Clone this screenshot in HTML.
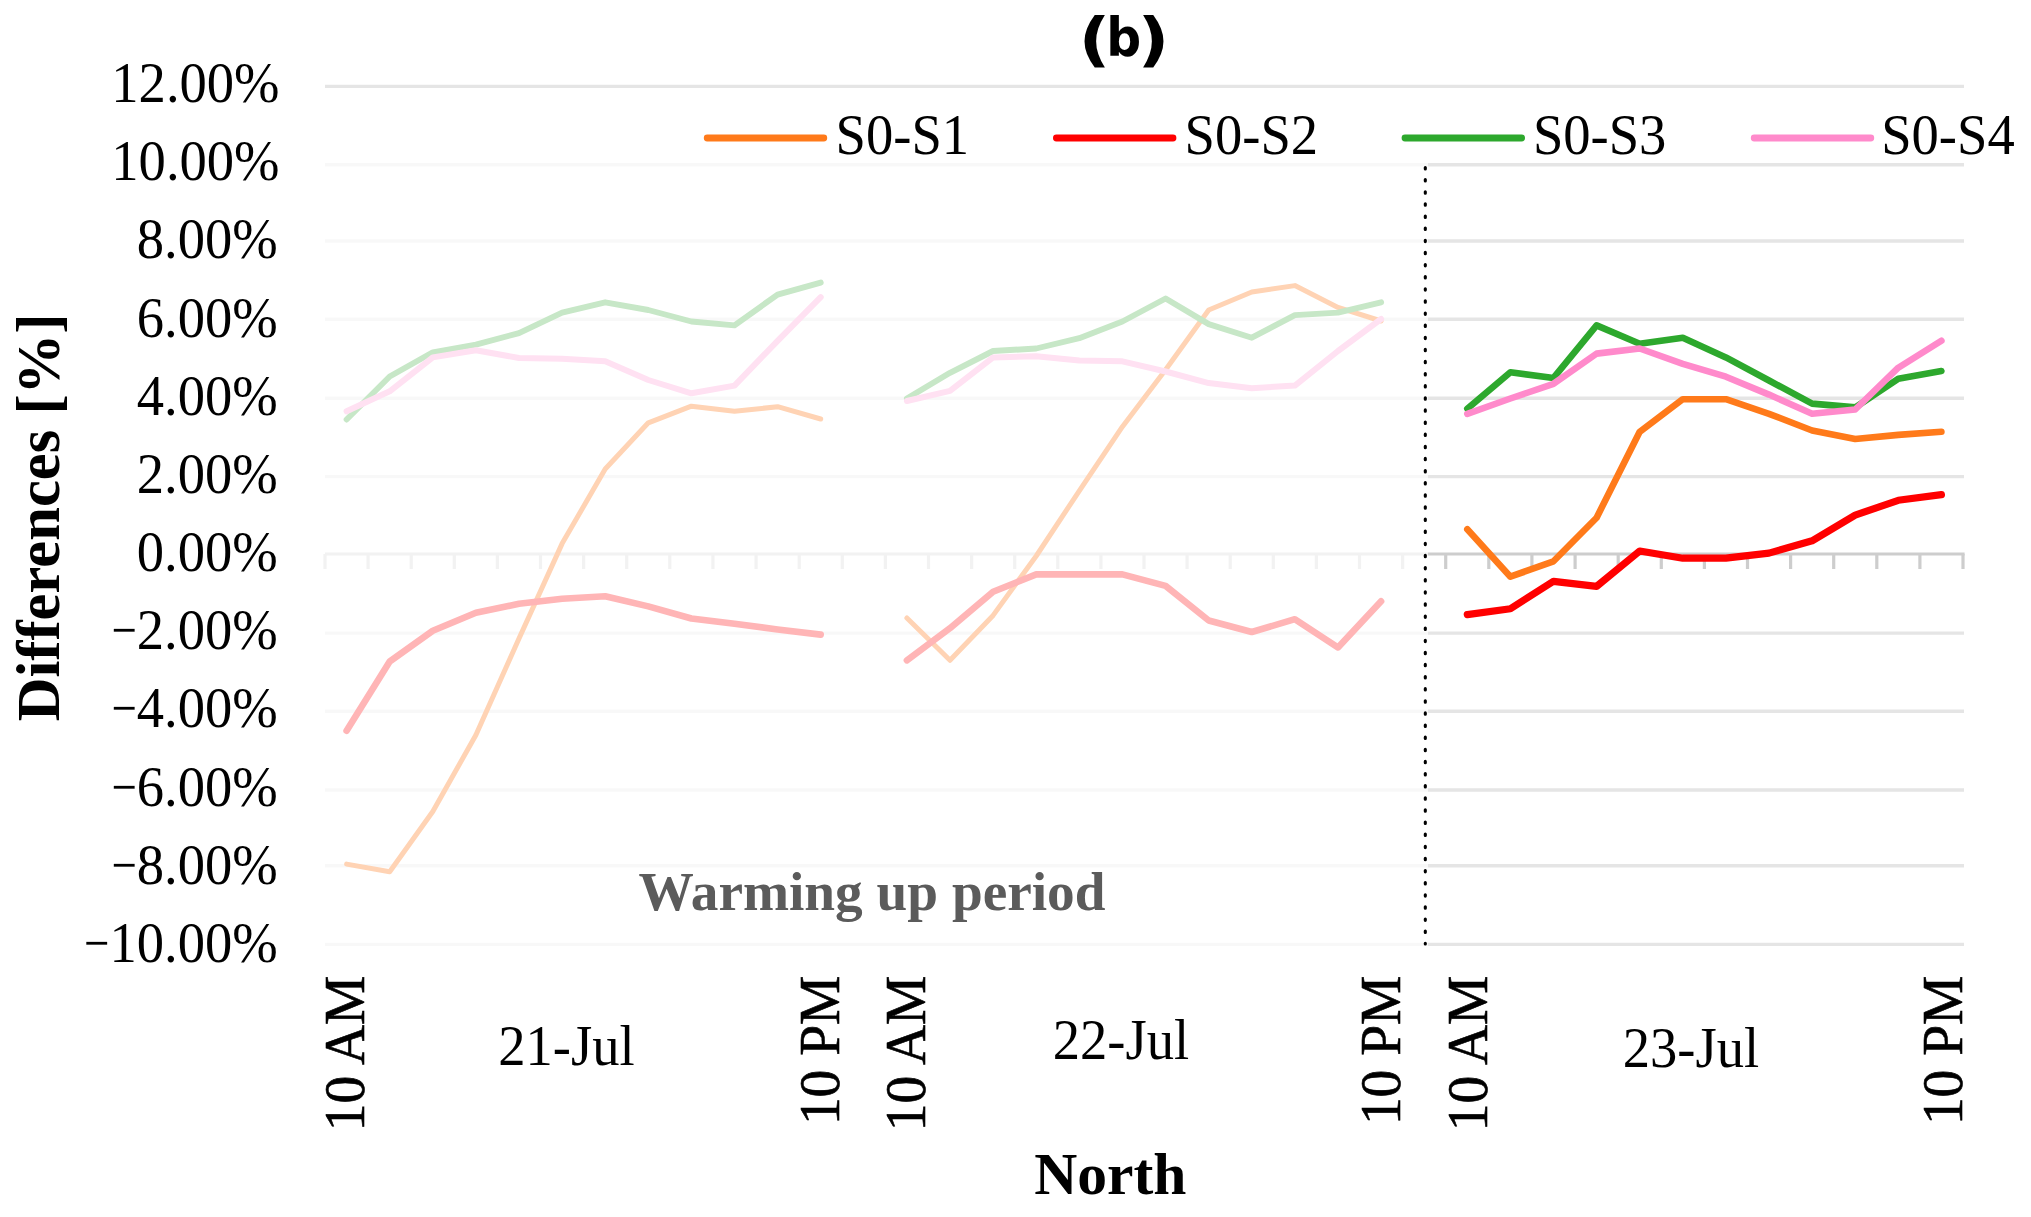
<!DOCTYPE html>
<html lang="en"><head><meta charset="utf-8"><title>North differences chart (b)</title>
<style>html,body{margin:0;padding:0;background:#fff}body{width:2031px;height:1217px;overflow:hidden}svg{display:block}text{font-family:"Liberation Serif","Times New Roman",serif;fill:#000;stroke:none}.b{font-weight:bold}.ss{font-family:"DejaVu Sans","Liberation Sans",sans-serif;font-weight:bold;stroke:none}</style></head><body>
<svg width="2031" height="1217" viewBox="0 0 2031 1217">
<rect width="2031" height="1217" fill="#fff"/>
<g stroke="#E5E5E5" stroke-width="3.4" fill="none">
<line x1="325.0" y1="86.4" x2="1964.0" y2="86.4"/>
<line x1="325.0" y1="164.8" x2="1964.0" y2="164.8"/>
<line x1="325.0" y1="241.0" x2="1964.0" y2="241.0"/>
<line x1="325.0" y1="319.3" x2="1964.0" y2="319.3"/>
<line x1="325.0" y1="398.2" x2="1964.0" y2="398.2"/>
<line x1="325.0" y1="476.6" x2="1964.0" y2="476.6"/>
<line x1="325.0" y1="633.1" x2="1964.0" y2="633.1"/>
<line x1="325.0" y1="711.2" x2="1964.0" y2="711.2"/>
<line x1="325.0" y1="790.0" x2="1964.0" y2="790.0"/>
<line x1="325.0" y1="865.7" x2="1964.0" y2="865.7"/>
<line x1="325.0" y1="944.4" x2="1964.0" y2="944.4"/>
</g>
<g stroke="#CDCDCD" stroke-width="3.2" fill="none">
<line x1="325.0" y1="554.0" x2="1964.6" y2="554.0"/>
<line x1="325.0" y1="554.0" x2="325.0" y2="569.0"/>
<line x1="368.1" y1="554.0" x2="368.1" y2="569.0"/>
<line x1="411.2" y1="554.0" x2="411.2" y2="569.0"/>
<line x1="454.3" y1="554.0" x2="454.3" y2="569.0"/>
<line x1="497.4" y1="554.0" x2="497.4" y2="569.0"/>
<line x1="540.5" y1="554.0" x2="540.5" y2="569.0"/>
<line x1="583.6" y1="554.0" x2="583.6" y2="569.0"/>
<line x1="626.7" y1="554.0" x2="626.7" y2="569.0"/>
<line x1="669.8" y1="554.0" x2="669.8" y2="569.0"/>
<line x1="712.9" y1="554.0" x2="712.9" y2="569.0"/>
<line x1="756.1" y1="554.0" x2="756.1" y2="569.0"/>
<line x1="799.2" y1="554.0" x2="799.2" y2="569.0"/>
<line x1="842.3" y1="554.0" x2="842.3" y2="569.0"/>
<line x1="885.4" y1="554.0" x2="885.4" y2="569.0"/>
<line x1="928.5" y1="554.0" x2="928.5" y2="569.0"/>
<line x1="971.6" y1="554.0" x2="971.6" y2="569.0"/>
<line x1="1014.7" y1="554.0" x2="1014.7" y2="569.0"/>
<line x1="1057.8" y1="554.0" x2="1057.8" y2="569.0"/>
<line x1="1100.9" y1="554.0" x2="1100.9" y2="569.0"/>
<line x1="1144.0" y1="554.0" x2="1144.0" y2="569.0"/>
<line x1="1187.1" y1="554.0" x2="1187.1" y2="569.0"/>
<line x1="1230.2" y1="554.0" x2="1230.2" y2="569.0"/>
<line x1="1273.3" y1="554.0" x2="1273.3" y2="569.0"/>
<line x1="1316.4" y1="554.0" x2="1316.4" y2="569.0"/>
<line x1="1359.5" y1="554.0" x2="1359.5" y2="569.0"/>
<line x1="1402.6" y1="554.0" x2="1402.6" y2="569.0"/>
<line x1="1445.7" y1="554.0" x2="1445.7" y2="569.0"/>
<line x1="1488.8" y1="554.0" x2="1488.8" y2="569.0"/>
<line x1="1531.9" y1="554.0" x2="1531.9" y2="569.0"/>
<line x1="1575.1" y1="554.0" x2="1575.1" y2="569.0"/>
<line x1="1618.2" y1="554.0" x2="1618.2" y2="569.0"/>
<line x1="1661.3" y1="554.0" x2="1661.3" y2="569.0"/>
<line x1="1704.4" y1="554.0" x2="1704.4" y2="569.0"/>
<line x1="1747.5" y1="554.0" x2="1747.5" y2="569.0"/>
<line x1="1790.6" y1="554.0" x2="1790.6" y2="569.0"/>
<line x1="1833.7" y1="554.0" x2="1833.7" y2="569.0"/>
<line x1="1876.8" y1="554.0" x2="1876.8" y2="569.0"/>
<line x1="1919.9" y1="554.0" x2="1919.9" y2="569.0"/>
<line x1="1963.0" y1="554.0" x2="1963.0" y2="569.0"/>
</g>
<rect x="319.0" y="159" width="1109.0" height="795" fill="#fff" fill-opacity="0.73"/>
<g fill="none" stroke-linecap="round" stroke-linejoin="round">
<polyline points="346.6,864.1 389.7,871.8 432.8,811.5 475.9,735.0 519.0,638.5 562.1,543.6 605.2,469.0 648.3,422.8 691.4,406.2 734.5,411.3 777.6,406.7 820.7,419.0" stroke="#FFD3B4" stroke-width="5.0"/>
<polyline points="906.9,618.0 950.0,660.3 993.1,615.4 1036.2,556.0 1079.3,490.8 1122.4,426.7 1165.6,369.7 1208.7,310.0 1251.8,292.0 1294.9,285.6 1338.0,307.4 1381.1,321.0" stroke="#FFD3B4" stroke-width="5.0"/>
<polyline points="1467.3,529.2 1510.4,576.7 1553.5,561.3 1596.6,517.7 1639.7,431.8 1682.8,399.2 1725.9,399.2 1769.0,413.8 1812.1,430.5 1855.2,439.0 1898.3,434.9 1941.4,431.8" stroke="#FF7A1A" stroke-width="6.6"/>
<polyline points="346.6,730.8 389.7,661.5 432.8,630.8 475.9,612.8 519.0,603.8 562.1,598.7 605.2,596.2 648.3,606.4 691.4,618.5 734.5,623.8 777.6,629.5 820.7,634.6" stroke="#FFB5B6" stroke-width="6.6"/>
<polyline points="906.9,660.3 950.0,628.2 993.1,591.8 1036.2,574.4 1079.3,574.4 1122.4,574.4 1165.6,585.9 1208.7,620.5 1251.8,632.0 1294.9,619.2 1338.0,647.4 1381.1,601.3" stroke="#FFB5B6" stroke-width="6.6"/>
<polyline points="1467.3,614.6 1510.4,608.7 1553.5,581.3 1596.6,586.4 1639.7,551.0 1682.8,558.2 1725.9,558.2 1769.0,553.1 1812.1,540.8 1855.2,515.1 1898.3,500.3 1941.4,494.6" stroke="#FF0000" stroke-width="7.2"/>
<polyline points="346.6,419.5 389.7,376.5 432.8,352.3 475.9,344.6 519.0,333.1 562.1,312.6 605.2,302.3 648.3,310.0 691.4,321.5 734.5,325.4 777.6,294.6 820.7,282.6" stroke="#C7E7C7" stroke-width="5.9"/>
<polyline points="906.9,398.5 950.0,372.8 993.1,351.0 1036.2,348.5 1079.3,338.2 1122.4,321.5 1165.6,298.5 1208.7,324.1 1251.8,337.7 1294.9,315.1 1338.0,312.6 1381.1,302.3" stroke="#C7E7C7" stroke-width="5.9"/>
<polyline points="1467.3,408.7 1510.4,372.3 1553.5,377.9 1596.6,325.4 1639.7,343.8 1682.8,337.7 1725.9,357.4 1769.0,380.5 1812.1,403.6 1855.2,407.4 1898.3,378.7 1941.4,371.0" stroke="#2DA82D" stroke-width="6.6"/>
<polyline points="346.6,411.3 389.7,391.3 432.8,357.4 475.9,350.3 519.0,358.0 562.1,358.7 605.2,361.3 648.3,380.0 691.4,393.3 734.5,385.6 777.6,340.8 820.7,297.2" stroke="#FFE1F2" stroke-width="6.0"/>
<polyline points="906.9,401.0 950.0,390.8 993.1,357.4 1036.2,356.2 1079.3,360.5 1122.4,361.3 1165.6,371.5 1208.7,383.1 1251.8,388.2 1294.9,385.6 1338.0,351.0 1381.1,319.0" stroke="#FFE1F2" stroke-width="6.0"/>
<polyline points="1467.3,413.8 1510.4,398.5 1553.5,383.8 1596.6,353.6 1639.7,348.5 1682.8,363.8 1725.9,376.7 1769.0,394.6 1812.1,413.8 1855.2,409.5 1898.3,367.7 1941.4,340.8" stroke="#FF8ACB" stroke-width="6.6"/>
</g>
<line x1="1425.3" y1="167.5" x2="1425.3" y2="944" stroke="#000" stroke-width="3.1" stroke-dasharray="1.4 10.72" stroke-linecap="round"/>
<line x1="707.2" y1="138" x2="823.8" y2="138" stroke="#FF7A1A" stroke-width="6.8" stroke-linecap="round"/>
<text transform="translate(835.6,154.3) scale(1.000,1.045)" font-size="54.6">S0-S1</text>
<line x1="1056.4" y1="138" x2="1173.0" y2="138" stroke="#FF0000" stroke-width="6.8" stroke-linecap="round"/>
<text transform="translate(1184.6,154.3) scale(1.000,1.045)" font-size="54.6">S0-S2</text>
<line x1="1405.0" y1="138" x2="1521.6" y2="138" stroke="#2DA82D" stroke-width="6.8" stroke-linecap="round"/>
<text transform="translate(1532.9,154.3) scale(1.000,1.045)" font-size="54.6">S0-S3</text>
<line x1="1754.2" y1="138" x2="1870.8" y2="138" stroke="#FF8ACB" stroke-width="6.8" stroke-linecap="round"/>
<text transform="translate(1881.2,154.3) scale(1.000,1.045)" font-size="54.6">S0-S4</text>
<text transform="translate(279.6,102.0) scale(1.000,1.045)" font-size="54.6" text-anchor="end">12.00%</text>
<text transform="translate(279.6,180.2) scale(1.000,1.045)" font-size="54.6" text-anchor="end">10.00%</text>
<text transform="translate(277.7,258.4) scale(1.000,1.045)" font-size="54.6" text-anchor="end">8.00%</text>
<text transform="translate(277.7,336.5) scale(1.000,1.045)" font-size="54.6" text-anchor="end">6.00%</text>
<text transform="translate(277.7,414.7) scale(1.000,1.045)" font-size="54.6" text-anchor="end">4.00%</text>
<text transform="translate(277.7,492.9) scale(1.000,1.045)" font-size="54.6" text-anchor="end">2.00%</text>
<text transform="translate(277.7,571.1) scale(1.000,1.045)" font-size="54.6" text-anchor="end">0.00%</text>
<text transform="translate(277.7,649.3) scale(1.000,1.045)" font-size="54.6" text-anchor="end"><tspan textLength="25.3" lengthAdjust="spacingAndGlyphs">−</tspan>2.00%</text>
<text transform="translate(277.7,727.4) scale(1.000,1.045)" font-size="54.6" text-anchor="end"><tspan textLength="25.3" lengthAdjust="spacingAndGlyphs">−</tspan>4.00%</text>
<text transform="translate(277.7,805.6) scale(1.000,1.045)" font-size="54.6" text-anchor="end"><tspan textLength="25.3" lengthAdjust="spacingAndGlyphs">−</tspan>6.00%</text>
<text transform="translate(277.7,883.8) scale(1.000,1.045)" font-size="54.6" text-anchor="end"><tspan textLength="25.3" lengthAdjust="spacingAndGlyphs">−</tspan>8.00%</text>
<text transform="translate(277.7,962.0) scale(1.000,1.045)" font-size="54.6" text-anchor="end"><tspan textLength="25.3" lengthAdjust="spacingAndGlyphs">−</tspan>10.00%</text>
<text class="ss"><tspan x="1078.6" y="59.7" font-size="58.8" textLength="31.98" lengthAdjust="spacingAndGlyphs">(</tspan><tspan x="1106.2" y="56.4" font-size="53.6" textLength="34.92" lengthAdjust="spacingAndGlyphs">b</tspan><tspan x="1137.5" y="59.7" font-size="58.8" textLength="31.98" lengthAdjust="spacingAndGlyphs">)</tspan></text>
<text transform="translate(58.6,517.5) rotate(-90) scale(1.000,1.000)" font-size="60.6" class="b" text-anchor="middle">Differences [%]</text>
<text transform="translate(1110.3,1194.2) scale(1.000,1.000)" font-size="59.6" class="b" text-anchor="middle">North</text>
<text transform="translate(872.0,909.6) scale(1.000,1.000)" font-size="55.3" class="b" text-anchor="middle" style="fill:#5B5B5B;stroke:none">Warming up period</text>
<text transform="translate(566.5,1064.8) scale(1.000,1.045)" font-size="54.6" text-anchor="middle">21-Jul</text>
<text transform="translate(1121.0,1058.8) scale(1.000,1.045)" font-size="54.6" text-anchor="middle">22-Jul</text>
<text transform="translate(1691.0,1067.3) scale(1.000,1.045)" font-size="54.6" text-anchor="middle">23-Jul</text>
<text transform="translate(363.7,975.8) rotate(-90) scale(1.000,1.020)" font-size="55.4" text-anchor="end" style="stroke:#000;stroke-width:0.6px">10 AM</text>
<text transform="translate(838.8,975.8) rotate(-90) scale(1.000,1.020)" font-size="55.4" text-anchor="end" style="stroke:#000;stroke-width:0.6px">10 PM</text>
<text transform="translate(925.2,975.8) rotate(-90) scale(1.000,1.020)" font-size="55.4" text-anchor="end" style="stroke:#000;stroke-width:0.6px">10 AM</text>
<text transform="translate(1400.3,975.8) rotate(-90) scale(1.000,1.020)" font-size="55.4" text-anchor="end" style="stroke:#000;stroke-width:0.6px">10 PM</text>
<text transform="translate(1486.6,975.8) rotate(-90) scale(1.000,1.020)" font-size="55.4" text-anchor="end" style="stroke:#000;stroke-width:0.6px">10 AM</text>
<text transform="translate(1961.7,975.8) rotate(-90) scale(1.000,1.020)" font-size="55.4" text-anchor="end" style="stroke:#000;stroke-width:0.6px">10 PM</text>
</svg></body></html>
